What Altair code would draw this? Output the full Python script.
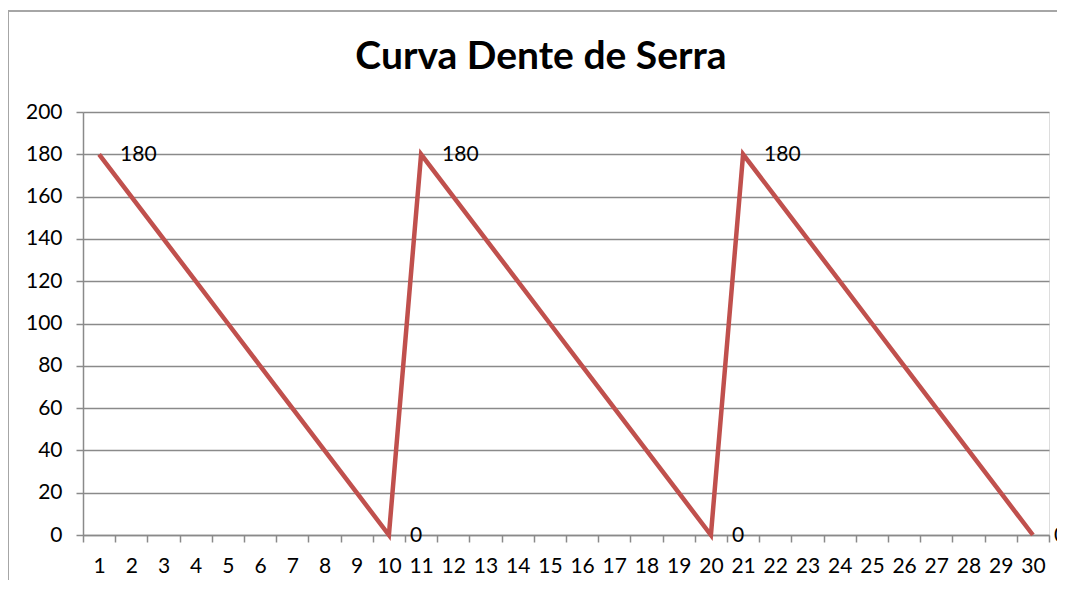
import altair as alt
import pandas as pd

x_vals = list(range(1, 31))
y_vals = [180, 160, 140, 120, 100, 80, 60, 40, 20, 0,
          180, 160, 140, 120, 100, 80, 60, 40, 20, 0,
          180, 160, 140, 120, 100, 80, 60, 40, 20, 0]
y_ticks = [0, 20, 40, 60, 80, 100, 120, 140, 160, 180, 200]
title_text = "Curva Dente de Serra"

df = pd.DataFrame({"x": x_vals, "y": y_vals})

FONT = "Lato"
GRID = "#8a8a8a"

xenc = alt.X(
    "x:O",
    bandPosition=0.5,
    scale=alt.Scale(type="band", paddingInner=0, paddingOuter=0),
    axis=alt.Axis(
        title=None, labelAngle=0, tickBand="extent", grid=False,
        domainColor=GRID, domainWidth=1.5, tickColor=GRID, tickWidth=1.5,
        tickSize=7, labelFont=FONT, labelFontSize=21, labelColor="black",
        labelPadding=13, labelBaseline="top",
    ),
)
yenc = alt.Y(
    "y:Q",
    scale=alt.Scale(domain=[0, 200], nice=False),
    axis=alt.Axis(
        title=None, values=y_ticks, grid=True, gridColor=GRID, gridWidth=1.5,
        domainColor=GRID, domainWidth=1.5, tickColor=GRID, tickWidth=1.5,
        tickSize=7, labelFont=FONT, labelFontSize=21, labelColor="black",
        labelPadding=14,
    ),
)

base = alt.Chart(df)

line = base.mark_line(color="#C0504D", strokeWidth=4.5).encode(x=xenc, y=yenc)

labels = base.transform_filter(
    "datum.y == 180 || datum.y == 0"
).mark_text(
    align="left", baseline="middle", dx=21, dy=1, font=FONT, fontSize=21, color="black"
).encode(x=xenc, y=yenc, text="y:Q")

border_left = alt.Chart(df).mark_rule(color="#a6a6a6", strokeWidth=1.5).encode(
    x=alt.value(-75), y=alt.value(-101), y2=alt.value(480)
)
border_top = alt.Chart(df).mark_rule(color="#a6a6a6", strokeWidth=1.5).encode(
    x=alt.value(-75), x2=alt.value(990), y=alt.value(-101)
)

title = alt.Chart(pd.DataFrame({"t": [title_text]})).mark_text(
    font=FONT, fontSize=39, fontWeight="bold", color="black",
    align="center", baseline="alphabetic",
).encode(x=alt.value(458), y=alt.value(-43), text="t:N")

chart = alt.layer(border_left, border_top, title, line, labels).properties(
    width=966,
    height=423,
    autosize=alt.AutoSizeParams(type="none"),
    padding={"left": 75, "top": 104, "right": 8, "bottom": 45},
).configure_view(stroke=None).configure(background="white")

chart.save("out.html", embed_options={"renderer": "svg", "actions": False})
